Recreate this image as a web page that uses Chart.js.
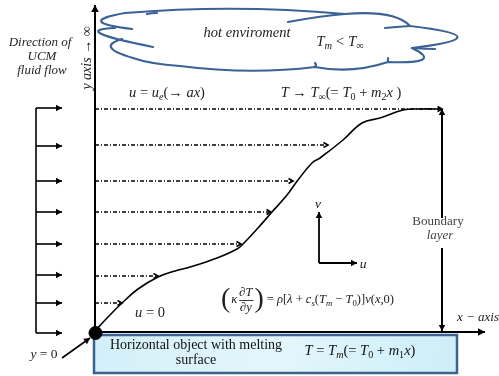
<!DOCTYPE html>
<html><head><meta charset="utf-8">
<script src="https://cdn.jsdelivr.net/npm/chart.js@4/dist/chart.umd.min.js"></script>
<style>html,body{margin:0;padding:0;background:#fff;}#wrap{width:499px;height:376px;position:relative;}canvas{display:block;}</style>
</head><body><div id="wrap"><canvas id="c"></canvas></div>
<script>
// Diagram coordinates: x along the melting surface, y height above it (origin = leading edge)
const profileX = [0, 13, 27, 43, 63, 80, 95, 122, 142, 149, 163, 177, 192, 203, 217, 225, 248, 267, 285, 308, 325, 347];
const profileY = [0, 14, 28, 42, 54, 60, 64, 73, 82, 88, 103, 119, 136, 151, 168, 173, 191, 208, 213, 221, 222, 222];
const streamHeights = [222, 186, 150, 119, 87, 55, 28];
const streamLengths = [347, 233, 198, 176, 146, 63, 27];
const inflowHeights = [223, 185, 150, 119, 87, 56, 28, -2];
const inflowStart = -59, inflowEnd = -33;
const yAxisTop = 326, xAxisEnd = 390;
const layerEdge = 347, layerTop = 222;

const BLACK = '#000';
const CLOUD = '#3b6396';
const SERIF = '"Liberation Serif","DejaVu Serif",serif';

const datasets = [];
function seg(points, opts) { datasets.push(Object.assign({data: points, showLine: true, pointRadius: 0, borderColor: BLACK, borderWidth: 1.5, fill: false, tension: 0}, opts)); }

// axes
seg([{x:0,y:-1},{x:0,y:yAxisTop}], {borderWidth: 2, head: 'fill', headSize: 7});
seg([{x:0,y:-1},{x:xAxisEnd,y:-1}], {borderWidth: 2, head: 'fill', headSize: 7});
// velocity (dash-dot) lines
streamHeights.forEach((h,i)=> seg([{x:0,y:h},{x:streamLengths[i],y:h}], {borderWidth: 1.3, borderDash:[4,2,1,2], head:'open', headSize:4.5}));
// boundary layer profile
datasets.push({data: profileX.map((x,i)=>({x, y: profileY[i]})), showLine: true, pointRadius: 0, borderColor: BLACK, borderWidth: 1.6, tension: 0.4, fill:false});
// inflow arrows
seg([{x:inflowStart,y:inflowHeights[inflowHeights.length-1]},{x:inflowStart,y:inflowHeights[0]}], {borderWidth: 1.6});
inflowHeights.forEach(h=> seg([{x:inflowStart,y:h},{x:inflowEnd,y:h}], {borderWidth: 1.6, head:'fill', headSize:6}));
// boundary layer thickness marker
seg([{x:layerEdge,y:113},{x:layerEdge,y:layerTop}], {borderWidth: 2, head:'fill', headSize:6});
seg([{x:layerEdge,y:83},{x:layerEdge,y:0}], {borderWidth: 2, head:'fill', headSize:6});
// u-v frame
seg([{x:224,y:68},{x:224,y:119}], {borderWidth: 1.8, head:'fill', headSize:6});
seg([{x:224,y:68},{x:262,y:68}], {borderWidth: 1.8, head:'fill', headSize:6});
// y = 0 pointer
seg([{x:-33,y:-27},{x:-5,y:-7}], {borderWidth: 1.6, head:'fill', headSize:6});
// leading edge dot
datasets.push({data:[{x:0.5,y:-2}], pointRadius: 6.5, pointBackgroundColor: BLACK, pointBorderColor: BLACK, showLine:false});

function drawHead(ctx,x1,y1,x2,y2,style,size,color){
  const a=Math.atan2(y2-y1,x2-x1);
  ctx.save(); ctx.translate(x2,y2); ctx.rotate(a); ctx.setLineDash([]);
  ctx.beginPath(); ctx.moveTo(-size,-size*0.55); ctx.lineTo(0,0); ctx.lineTo(-size,size*0.55);
  if(style==='fill'){ ctx.closePath(); ctx.fillStyle=color; ctx.fill(); }
  else { ctx.lineWidth=1.6; ctx.strokeStyle=color; ctx.stroke(); }
  ctx.restore();
}

function parseMath(s){
  const runs=[]; let i=0;
  while(i<s.length){
    let ch=s[i], sub=false;
    if(ch==='_'){ sub=true; i++; if(s[i]==='{'){ const j=s.indexOf('}',i); ch=s.slice(i+1,j); i=j+1; } else { ch=s[i]; i++; } }
    else i++;
    for(const c of ch) runs.push({c, sub, it:/[A-Za-zκρλ∂]/.test(c)});
  }
  return runs;
}
function fontFor(r,size,allIt){ const sz = r.sub ? size*0.7 : size; return ((r.it||allIt)?'italic ':'') + sz + 'px ' + SERIF; }
function drawMath(ctx,s,x,y,size,align,color,allIt){
  const runs=parseMath(s); let w=0;
  runs.forEach(r=>{ ctx.font=fontFor(r,size,allIt); r.w=ctx.measureText(r.c).width; w+=r.w; });
  let cx = align==='center'? x-w/2 : (align==='right'? x-w : x);
  ctx.fillStyle=color||'#1a1a1a'; ctx.textAlign='left'; ctx.textBaseline='middle';
  runs.forEach(r=>{ ctx.font=fontFor(r,size,allIt); ctx.fillText(r.c, cx, r.sub? y+size*0.28 : y); cx+=r.w; });
  return cx;
}

// cloud outline: start point then quadratic lobes [ctrlX,ctrlY,endX,endY]
const cloudMain = [[37,302],[-21,309,30,318],[140,327,250,317],[300,321,315,305],[409,294,317,283],[350,267,293,269],[257,257,220,264],[155,256,85,265],[55,267,38,273],[0,284,27,292]];
const cloudInner = [[58,284],[-27,301,20,303]];
const cloudHooks = [[250,317,225,315,193,309],[315,305,300,304,290,303],[317,283,330,282,340,282],[220,264,222,266,220,268],[293,269,293,271,293,273],[52,317,56,318,62,318]];

const diagram = {
  id:'diagram',
  beforeDatasetsDraw(chart){
    const ctx=chart.ctx, X=v=>chart.scales.x.getPixelForValue(v), Y=v=>chart.scales.y.getPixelForValue(v);
    // melting plate
    const x0=X(-1), x1=X(362), y0=Y(-4), y1=Y(-42);
    const g=ctx.createLinearGradient(x0,y0,x1,y1);
    g.addColorStop(0,'#d3eff9'); g.addColorStop(0.5,'#e4f6fb'); g.addColorStop(1,'#cdeef8');
    ctx.fillStyle=g; ctx.fillRect(x0,y0,x1-x0,y1-y0);
    ctx.strokeStyle='#3a6390'; ctx.lineWidth=2.5; ctx.strokeRect(x0,y0,x1-x0,y1-y0);
    // cloud
    ctx.save(); ctx.strokeStyle=CLOUD; ctx.lineWidth=2.2; ctx.lineCap='round'; ctx.lineJoin='round';
    [cloudMain, cloudInner].forEach(path=>{
      ctx.beginPath(); ctx.moveTo(X(path[0][0]),Y(path[0][1]));
      path.slice(1).forEach(l=>ctx.quadraticCurveTo(X(l[0]),Y(l[1]),X(l[2]),Y(l[3])));
      ctx.stroke();
    });
    cloudHooks.forEach(h=>{ ctx.beginPath(); ctx.moveTo(X(h[0]),Y(h[1])); ctx.quadraticCurveTo(X(h[2]),Y(h[3]),X(h[4]),Y(h[5])); ctx.stroke(); });
    ctx.restore();
  },
  afterDatasetsDraw(chart){
    const ctx=chart.ctx, X=v=>chart.scales.x.getPixelForValue(v), Y=v=>chart.scales.y.getPixelForValue(v);
    chart.data.datasets.forEach((ds,i)=>{
      if(!ds.head) return;
      const p=chart.getDatasetMeta(i).data; const a=p[p.length-2], b=p[p.length-1];
      drawHead(ctx,a.x,a.y,b.x,b.y,ds.head,ds.headSize,ds.borderColor);
    });
    // text
    ctx.save();
    ctx.textAlign='center'; ctx.textBaseline='middle';
    ctx.fillStyle='#262626'; ctx.font='italic 13px '+SERIF;
    ctx.fillText('Direction of', X(-55), Y(288));
    ctx.fillText('UCM', X(-53), Y(274));
    ctx.fillText('fluid flow', X(-53), Y(260));
    // rotated y axis label
    ctx.save(); ctx.translate(X(-8),Y(273)); ctx.rotate(-Math.PI/2);
    drawMath(ctx,'y axis → ∞',0,0,14,'center','#222',true); ctx.restore();
    ctx.fillStyle='#222'; ctx.font='italic 14.5px '+SERIF; ctx.textAlign='center';
    ctx.fillText('hot enviroment', X(152), Y(298));
    drawMath(ctx,'T_m < T_∞',X(245),Y(289),15,'center','#222');
    drawMath(ctx,'u = u_e(→ ax)',X(72),Y(238),14.5,'center','#222');
    drawMath(ctx,'T → T_∞(= T_0 + m_2x )',X(246),Y(238),14.5,'center','#222');
    ctx.fillStyle='#444'; ctx.font='13px '+SERIF; ctx.textAlign='center';
    ctx.fillText('Boundary', X(343), Y(109));
    ctx.font='italic 13px '+SERIF; ctx.fillText('layer', X(345), Y(95));
    drawMath(ctx,'x − axis',X(383),Y(13),13,'center','#222',true);
    drawMath(ctx,'u = 0',X(55),Y(18),14.5,'center','#222');
    drawMath(ctx,'y = 0',X(-51),Y(-23),13.5,'center','#222');
    drawMath(ctx,'v',X(223),Y(127),13.5,'center','#222');
    drawMath(ctx,'u',X(268),Y(67),13.5,'center','#222');
    // heat balance equation
    let ex=X(126), ey=Y(31);
    ctx.fillStyle='#222'; ctx.font='28px '+SERIF; ctx.textAlign='left'; ctx.textBaseline='middle';
    ctx.fillText('(', ex, ey); ex+=ctx.measureText('(').width+1;
    ex=drawMath(ctx,'κ',ex,ey,12.5,'left','#222')+2;
    ctx.font='italic 12.5px '+SERIF; const fw=ctx.measureText('∂T').width;
    drawMath(ctx,'∂T',ex+fw/2,ey-7,12.5,'center','#222');
    drawMath(ctx,'∂y',ex+fw/2,ey+8,12.5,'center','#222');
    ctx.strokeStyle='#222'; ctx.lineWidth=0.9; ctx.beginPath(); ctx.moveTo(ex,ey+0.5); ctx.lineTo(ex+fw+1,ey+0.5); ctx.stroke();
    ex+=fw+2; ctx.font='28px '+SERIF; ctx.fillStyle='#222'; ctx.fillText(')', ex, ey); ex+=ctx.measureText(')').width+3;
    drawMath(ctx,'= ρ[λ + c_s(T_m − T_0)]v(x,0)',ex,ey,12.5,'left','#222');
    // plate labels
    ctx.fillStyle='#111'; ctx.font='14px '+SERIF; ctx.textAlign='center'; ctx.textBaseline='middle';
    ctx.fillText('Horizontal object with melting', X(101), Y(-14));
    ctx.fillText('surface', X(101), Y(-29));
    drawMath(ctx,'T = T_m(= T_0 + m_1x)',X(265),Y(-20),14.5,'center','#111');
    ctx.restore();
  }
};

new Chart(document.getElementById('c'), {
  type:'scatter',
  data:{datasets},
  options:{
    responsive:true, maintainAspectRatio:false, animation:false, devicePixelRatio:1,
    layout:{padding:0, autoPadding:false},
    plugins:{legend:{display:false}, tooltip:{enabled:false}},
    events:[],
    scales:{
      x:{type:'linear', min:-95, max:404, display:false},
      y:{type:'linear', min:-45, max:331, display:false}
    }
  },
  plugins:[diagram]
});
</script></body></html>
